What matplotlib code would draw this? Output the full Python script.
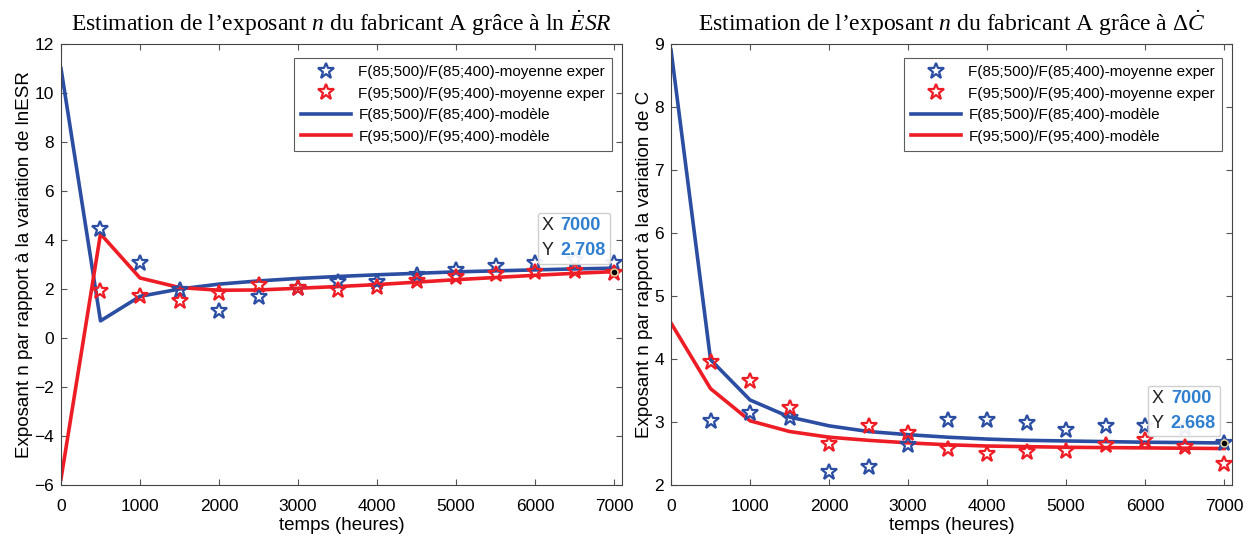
#!/usr/bin/env python3
"""Estimation de l'exposant n - fabricant A (ln ESR et delta C)."""

import matplotlib
matplotlib.use("Agg")
import matplotlib.pyplot as plt
from matplotlib.offsetbox import TextArea, HPacker, VPacker, AnnotationBbox

plt.rcParams["font.family"] = ["Liberation Sans", "DejaVu Sans"]
plt.rcParams["mathtext.fontset"] = "custom"
plt.rcParams["mathtext.rm"] = "Liberation Serif"
plt.rcParams["mathtext.it"] = "Liberation Serif:italic"

BLUE = "#2b4ea2"
RED = "#ee1c25"
TIP_BLUE = "#2f7fd0"

# temps (heures)
t_model = [0, 500, 1000, 1500, 2000, 2500, 3000, 3500, 4000, 4500, 5000, 5500, 6000, 6500, 7000]
t_exp = [500, 1000, 1500, 2000, 2500, 3000, 3500, 4000, 4500, 5000, 5500, 6000, 6500, 7000]

# ln ESR
esr_model_85 = [11.0, 0.7, 1.7, 2.0, 2.2, 2.33, 2.43, 2.51, 2.58, 2.64, 2.7, 2.74, 2.78, 2.82, 2.85]
esr_model_95 = [-5.75, 4.25, 2.45, 2.06, 1.95, 1.96, 2.03, 2.1, 2.18, 2.28, 2.38, 2.47, 2.56, 2.64, 2.708]
esr_exp_85 = [4.44, 3.05, 1.96, 1.11, 1.69, 2.05, 2.28, 2.3, 2.57, 2.78, 2.95, 3.05, 3.2, 3.08]
esr_exp_95 = [1.93, 1.73, 1.51, 1.85, 2.16, 2.05, 1.96, 2.1, 2.34, 2.48, 2.61, 2.68, 2.75, 2.65]

# delta C
dc_model_85 = [8.9, 3.99, 3.35, 3.08, 2.94, 2.85, 2.8, 2.76, 2.73, 2.71, 2.7, 2.69, 2.68, 2.675, 2.668]
dc_model_95 = [4.57, 3.53, 3.02, 2.85, 2.76, 2.71, 2.67, 2.64, 2.62, 2.61, 2.6, 2.595, 2.59, 2.585, 2.58]
dc_exp_85 = [3.02, 3.14, 3.06, 2.21, 2.28, 2.63, 3.04, 3.03, 2.99, 2.87, 2.93, 2.93, 2.9, 2.66]
dc_exp_95 = [3.96, 3.65, 3.23, 2.65, 2.93, 2.82, 2.57, 2.49, 2.53, 2.54, 2.63, 2.72, 2.6, 2.34]

LABELS = [
    "F(85;500)/F(85;400)-moyenne exper",
    "F(95;500)/F(95;400)-moyenne exper",
    "F(85;500)/F(85;400)-modèle",
    "F(95;500)/F(95;400)-modèle",
]


def datatip(ax, x, y, offset):
    rows = []
    for name, val in (("X", f"{x:g}"), ("Y", f"{y:.3f}")):
        rows.append(HPacker(children=[
            TextArea(name, textprops=dict(color="#222222", fontsize=13)),
            TextArea(val, textprops=dict(color=TIP_BLUE, fontsize=13, fontweight="bold")),
        ], pad=0, sep=5))
    box = VPacker(children=rows, pad=0, sep=6, align="left")
    ab = AnnotationBbox(box, (x, y), xybox=offset, boxcoords="offset points",
                        frameon=True, pad=0.4, box_alignment=(0.5, 0.5),
                        bboxprops=dict(facecolor="white", edgecolor="#cccccc",
                                       alpha=0.92, boxstyle="round,pad=0.3,rounding_size=0.15"),
                        zorder=10)
    ax.add_artist(ab)
    ax.plot([x], [y], "o", color="black", markersize=5, markeredgecolor="#e8d8a0",
            zorder=11, clip_on=False)


def draw(ax, m85, m95, e85, e95, ylim, yticks, ylabel, title):
    ax.plot(t_exp, e85, "*", color=BLUE, markerfacecolor="none", markersize=12,
            markeredgewidth=1.6, label=LABELS[0], zorder=3)
    ax.plot(t_exp, e95, "*", color=RED, markerfacecolor="none", markersize=12,
            markeredgewidth=1.6, label=LABELS[1], zorder=3)
    ax.plot(t_model, m85, "-", color=BLUE, lw=2.6, label=LABELS[2], zorder=2)
    ax.plot(t_model, m95, "-", color=RED, lw=2.6, label=LABELS[3], zorder=2)
    ax.set_xlim(0, 7100)
    ax.set_ylim(*ylim)
    ax.set_xticks(range(0, 7001, 1000))
    ax.set_yticks(yticks)
    ax.tick_params(direction="in", top=True, right=True, labelsize=12.5,
                   length=4, color="#555555")
    ax.tick_params(axis="x", pad=10)
    ax.tick_params(axis="y", pad=5)
    for s in ax.spines.values():
        s.set_color("#444444")
        s.set_linewidth(0.8)
    ax.set_xlabel("temps (heures)", fontsize=13.5, labelpad=2)
    ax.set_ylabel(ylabel, fontsize=13.5, labelpad=1)
    ax.set_title(title, fontsize=17, family="Liberation Serif", pad=9)
    leg = ax.legend(loc="upper right", bbox_to_anchor=(0.982, 0.968), borderaxespad=0,
                    fontsize=11, frameon=True, fancybox=False,
                    handlelength=3.3, handletextpad=0.45,
                    labelspacing=0.5, borderpad=0.45)
    leg.get_frame().set_edgecolor("#333333")
    leg.get_frame().set_linewidth(0.8)


fig = plt.figure(figsize=(12.55, 5.42), dpi=100)
ax1 = fig.add_axes([0.0486, 0.105, 0.447, 0.814])
ax2 = fig.add_axes([0.5347, 0.105, 0.447, 0.814])

draw(ax1, esr_model_85, esr_model_95, esr_exp_85, esr_exp_95, (-6, 12), range(-6, 13, 2),
     "Exposant n par rapport à la variation de lnESR",
     r"Estimation de l’exposant $\mathit{n}$ du fabricant A grâce à ln $\dot{\mathit{E}}\mathit{SR}$")
draw(ax2, dc_model_85, dc_model_95, dc_exp_85, dc_exp_95, (2, 9), range(2, 10),
     "Exposant n par rapport à la variation de C",
     r"Estimation de l’exposant $\mathit{n}$ du fabricant A grâce à $\Delta\dot{\mathit{C}}$")

datatip(ax1, 7000, 2.708, (-29, 24))
datatip(ax2, 7000, 2.668, (-29, 23))

fig.savefig("out.png", dpi=100)
print("Saved: out.png")
